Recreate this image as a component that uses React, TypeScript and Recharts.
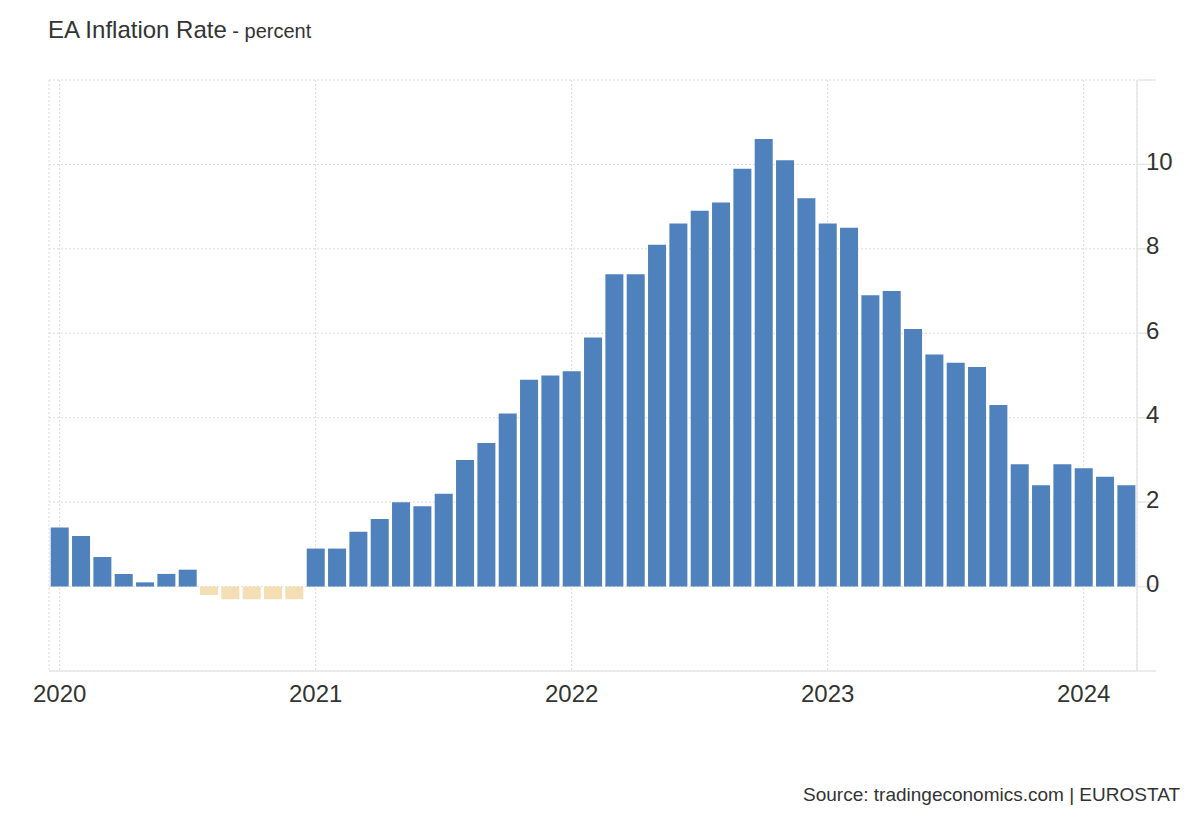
import { BarChart, Bar, XAxis, YAxis, CartesianGrid, Cell } from "recharts";

const months = [
  "2020-01", "2020-02", "2020-03", "2020-04", "2020-05", "2020-06",
  "2020-07", "2020-08", "2020-09", "2020-10", "2020-11", "2020-12",
  "2021-01", "2021-02", "2021-03", "2021-04", "2021-05", "2021-06",
  "2021-07", "2021-08", "2021-09", "2021-10", "2021-11", "2021-12",
  "2022-01", "2022-02", "2022-03", "2022-04", "2022-05", "2022-06",
  "2022-07", "2022-08", "2022-09", "2022-10", "2022-11", "2022-12",
  "2023-01", "2023-02", "2023-03", "2023-04", "2023-05", "2023-06",
  "2023-07", "2023-08", "2023-09", "2023-10", "2023-11", "2023-12",
  "2024-01", "2024-02", "2024-03",
];

const inflation = [
  1.4, 1.2, 0.7, 0.3, 0.1, 0.3, 0.4, -0.2, -0.3, -0.3, -0.3, -0.3,
  0.9, 0.9, 1.3, 1.6, 2.0, 1.9, 2.2, 3.0, 3.4, 4.1, 4.9, 5.0,
  5.1, 5.9, 7.4, 7.4, 8.1, 8.6, 8.9, 9.1, 9.9, 10.6, 10.1, 9.2,
  8.6, 8.5, 6.9, 7.0, 6.1, 5.5, 5.3, 5.2, 4.3, 2.9, 2.4, 2.9,
  2.8, 2.6, 2.4,
];

const yTicks = [-2, 0, 2, 4, 6, 8, 10, 12];

const data = months.map((m, i) => ({ month: m, value: inflation[i] }));

const AXIS = "#e6e6e6";
const GRID = "#dcdcdc";
const TEXT = "#333";
const FONT = "Liberation Sans, Arial, sans-serif";

function RightTick(props: any) {
  const { x, y, payload } = props;
  const v = payload.value;
  // top and bottom ticks only get a line, no label
  if (v === -2 || v === 12) return null;
  return (
    <text
      x={x}
      y={y - 3}
      fill={TEXT}
      fontSize={24}
      fontFamily={FONT}
      textAnchor="start"
      dominantBaseline="central"
    >
      {v}
    </text>
  );
}

export default function App() {
  return (
    <div
      style={{
        position: "absolute",
        left: 0,
        top: 0,
        width: 1200,
        height: 820,
        background: "#fff",
        fontFamily: FONT,
        color: TEXT,
      }}
    >
      <div style={{ position: "absolute", left: 48, top: 16, whiteSpace: "nowrap" }}>
        <span style={{ fontSize: 24 }}>EA Inflation Rate</span>
        <span style={{ fontSize: 20 }}> - percent</span>
      </div>
      <BarChart
        width={1200}
        height={820}
        data={data}
        margin={{ top: 80, right: 0, left: 49, bottom: 109 }}
        barCategoryGap="8%"
      >
        <CartesianGrid stroke={GRID} strokeDasharray="2 2" />
        <XAxis
          dataKey="month"
          interval={11}
          tickLine={false}
          axisLine={{ stroke: AXIS, strokeWidth: 1.5 }}
          tickFormatter={(v: string) => v.slice(0, 4)}
          tick={{ fill: TEXT, fontSize: 24, fontFamily: FONT }}
          tickMargin={8}
          height={40}
        />
        <YAxis
          yAxisId="l"
          orientation="left"
          width={0}
          domain={[-2, 12]}
          tick={false}
          tickLine={false}
          axisLine={{ stroke: AXIS, strokeWidth: 1.5 }}
        />
        <YAxis
          orientation="right"
          width={63}
          domain={[-2, 12]}
          ticks={yTicks}
          interval={0}
          tickSize={19}
          tickMargin={-10}
          tickLine={{ stroke: AXIS, strokeWidth: 1.5 }}
          axisLine={{ stroke: AXIS, strokeWidth: 1.5 }}
          tick={<RightTick />}
        />
        <Bar dataKey="value" isAnimationActive={false}>
          {data.map((d) => (
            <Cell key={d.month} fill={d.value < 0 ? "#f5deb3" : "#4f81bd"} />
          ))}
        </Bar>
      </BarChart>
      <div
        style={{
          position: "absolute",
          right: 20,
          top: 784,
          fontSize: 19,
          whiteSpace: "nowrap",
        }}
      >
        Source: tradingeconomics.com | EUROSTAT
      </div>
    </div>
  );
}
